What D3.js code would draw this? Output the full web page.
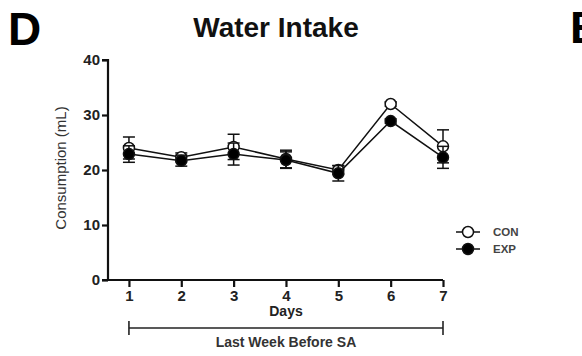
<!DOCTYPE html>
<html>
<head>
<meta charset="utf-8">
<script src="https://cdn.jsdelivr.net/npm/d3@7"></script>
<style>
body { margin: 0; background: #fff; }
svg { display: block; font-family: 'Liberation Sans', Arial, sans-serif; }
</style>
</head>
<body>
<svg id="chart" width="582" height="356"></svg>
<script>
'use strict';

//Chart data.
const days = [1, 2, 3, 4, 5, 6, 7];
const conMean = [24.0, 22.3, 24.2, 22.0, 20.0, 32.0, 24.3];
const conErr = [2.0, 0.8, 2.3, 1.6, 0.8, 0.4, 3.0];
const expMean = [22.9, 21.7, 22.9, 21.8, 19.4, 28.9, 22.3];
const expErr = [1.5, 1.0, 2.0, 1.5, 1.4, 0.4, 2.0];
const yTicks = [0, 10, 20, 30, 40];
const seriesNames = ['CON', 'EXP'];

const width = 582;
const height = 356;
const margin = {top: 60, right: 139, bottom: 76, left: 108};
const innerWidth = width - margin.left - margin.right;
const innerHeight = height - margin.top - margin.bottom;

const svg = d3.select('#chart');

//Scales. The x domain starts a little before day 1 so the first point is off the y axis.
const xScale = d3.scaleLinear().domain([0.6, 7]).range([0, innerWidth]);
const yScale = d3.scaleLinear().domain([0, 40]).range([innerHeight, 0]);

const g = svg.append('g').attr('transform', `translate(${margin.left}, ${margin.top})`);

//Axes.
const xAxis = d3.axisBottom(xScale).tickValues(days).tickSize(7).tickPadding(3).tickFormat(d3.format('d'));
const yAxis = d3.axisLeft(yScale).tickValues(yTicks).tickSize(6).tickPadding(2);

function styleAxis(sel) {
	sel.select('.domain').attr('stroke', '#111').attr('stroke-width', 2.2);
	sel.selectAll('.tick line').attr('stroke', '#111').attr('stroke-width', 2.2);
	sel.selectAll('.tick text')
		.attr('fill', '#222')
		.style('font-size', '15px')
		.style('font-weight', 'bold')
		.style('font-family', "'Liberation Sans', Arial, sans-serif");
}

g.append('g')
	.attr('transform', `translate(0, ${innerHeight})`)
	.call(xAxis)
	.call(styleAxis)
	.call((s) => s.select('.domain').attr('d', `M0,0H${innerWidth}`));

g.append('g')
	.call(yAxis)
	.call(styleAxis)
	.call((s) => s.select('.domain').attr('d', `M-6,0H0V${innerHeight}H-6`));

//Build both series from the arrays.
const series = [
	{name: seriesNames[0], fill: '#fff', values: days.map((d, i) => ({day: d, mean: conMean[i], err: conErr[i]}))},
	{name: seriesNames[1], fill: '#000', values: days.map((d, i) => ({day: d, mean: expMean[i], err: expErr[i]}))}
];

const line = d3.line()
	.x((d) => xScale(d.day))
	.y((d) => yScale(d.mean));

series.forEach((s) => {
	const sg = g.append('g').attr('class', 'series');
	//Error bars with caps.
	const eb = sg.selectAll('g.err')
		.data(s.values)
		.enter()
		.append('g')
		.attr('class', 'err')
		.attr('stroke', '#111')
		.attr('stroke-width', 1.5);
	eb.append('line')
		.attr('x1', (d) => xScale(d.day))
		.attr('x2', (d) => xScale(d.day))
		.attr('y1', (d) => yScale(d.mean + d.err))
		.attr('y2', (d) => yScale(d.mean - d.err));
	[1, -1].forEach((sign) => {
		eb.append('line')
			.attr('x1', (d) => xScale(d.day) - 6)
			.attr('x2', (d) => xScale(d.day) + 6)
			.attr('y1', (d) => yScale(d.mean + sign * d.err))
			.attr('y2', (d) => yScale(d.mean + sign * d.err));
	});
	sg.append('path')
		.datum(s.values)
		.attr('fill', 'none')
		.attr('stroke', '#111')
		.attr('stroke-width', 1.5)
		.attr('d', line);
	sg.selectAll('circle')
		.data(s.values)
		.enter()
		.append('circle')
		.attr('cx', (d) => xScale(d.day))
		.attr('cy', (d) => yScale(d.mean))
		.attr('r', 5.5)
		.attr('fill', s.fill)
		.attr('stroke', '#111')
		.attr('stroke-width', 1.5);
});

//Axis titles.
g.append('text')
	.attr('x', xScale(4))
	.attr('y', innerHeight + 36)
	.attr('text-anchor', 'middle')
	.attr('fill', '#222')
	.style('font-size', '14px')
	.style('font-weight', 'bold')
	.text('Days');

g.append('text')
	.attr('transform', `translate(-42, ${innerHeight / 2 - 2}) rotate(-90)`)
	.attr('text-anchor', 'middle')
	.attr('fill', '#333')
	.style('font-size', '15px')
	.text('Consumption (mL)');

//Bracket under the x axis spanning all days.
const by = innerHeight + 48;
const bracket = g.append('g').attr('stroke', '#222').attr('stroke-width', 1.6);
bracket.append('line').attr('x1', xScale(days[0])).attr('x2', xScale(days[days.length - 1])).attr('y1', by).attr('y2', by);
bracket.append('line').attr('x1', xScale(days[0])).attr('x2', xScale(days[0])).attr('y1', by - 7).attr('y2', by + 7);
bracket.append('line').attr('x1', xScale(days[days.length - 1])).attr('x2', xScale(days[days.length - 1])).attr('y1', by - 7).attr('y2', by + 7);

g.append('text')
	.attr('x', (xScale(days[0]) + xScale(days[days.length - 1])) / 2)
	.attr('y', innerHeight + 67)
	.attr('text-anchor', 'middle')
	.attr('fill', '#333')
	.style('font-size', '14px')
	.style('font-weight', 'bold')
	.text('Last Week Before SA');

//Legend.
const legend = svg.append('g').attr('transform', 'translate(456, 232)');
series.forEach((s, i) => {
	const lg = legend.append('g').attr('transform', `translate(0, ${i * 17})`);
	lg.append('line').attr('x1', 0).attr('x2', 24).attr('stroke', '#111').attr('stroke-width', 1.5);
	lg.append('circle').attr('cx', 12).attr('r', 5.5).attr('fill', s.fill).attr('stroke', '#111').attr('stroke-width', 1.5);
	lg.append('text')
		.attr('x', 37)
		.attr('dy', '0.35em')
		.attr('fill', '#444')
		.style('font-size', '11.5px')
		.style('font-weight', 'bold')
		.text(s.name);
});

//Chart title and panel letters.
svg.append('text')
	.attr('x', 276)
	.attr('y', 37)
	.attr('text-anchor', 'middle')
	.attr('fill', '#111')
	.style('font-size', '28px')
	.style('font-weight', 'bold')
	.text('Water Intake');

svg.append('text')
	.attr('x', 8)
	.attr('y', 45)
	.attr('fill', '#000')
	.style('font-size', '46px')
	.style('font-weight', 'bold')
	.text('D');

svg.append('text')
	.attr('x', 570)
	.attr('y', 43)
	.attr('fill', '#000')
	.style('font-size', '45px')
	.style('font-weight', 'bold')
	.text('E');
</script>
</body>
</html>
